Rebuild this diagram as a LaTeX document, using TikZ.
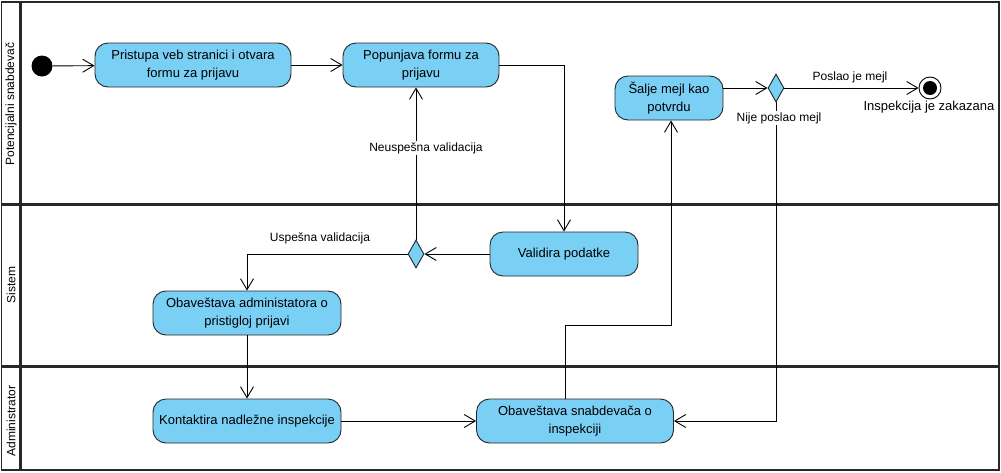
\documentclass[tikz,border=0pt]{standalone}
\usepackage{fontspec}
\setmainfont{Liberation Sans}
\usetikzlibrary{shapes.geometric,arrows.meta}
\definecolor{actfill}{RGB}{122,207,245}
\definecolor{frame}{RGB}{40,40,40}
\tikzset{
  act/.style={draw=black!85, fill=actfill, rounded corners=13pt, line width=0.9pt,
    inner sep=2pt, align=center, font=\fontsize{13}{18}\selectfont, minimum height=44pt},
  dec/.style={draw=black!85, fill=actfill, shape=diamond, inner sep=0pt,
    minimum width=16pt, minimum height=28pt, line width=0.9pt},
  flow/.style={draw=black, line width=0.9pt, -{Straight Barb[length=11pt,width=13pt,line width=0.9pt]}},
  lbl/.style={font=\fontsize{12}{14}\selectfont, inner sep=1pt},
  lane/.style={font=\fontsize{12}{14}\selectfont, rotate=90}
}
\begin{document}
\begin{tikzpicture}[x=1pt,y=-1pt]
\useasboundingbox (0,0) rectangle (1001,472);
% frame
\draw[frame, line width=1.8pt] (1.5,2) rectangle (999,470);
\draw[frame, line width=3pt] (20,2) -- (20,470);
\draw[frame, line width=3pt] (1.5,204) -- (999,204);
\draw[frame, line width=3pt] (1.5,366) -- (999,366);
\node[lane] (l1) at (11,104) {Potencijalni snabdevač};
\node[lane] (l2) at (11,285) {Sistem};
\node[lane] (l3) at (11,421) {Administrator};
% nodes
\node[circle, fill=black, minimum size=21pt, inner sep=0pt] (start) at (42,66) {};
\node[act, minimum width=196pt] (a1) at (193,65) {Pristupa veb stranici i otvara\\formu za prijavu};
\node[act, minimum width=156pt] (a2) at (421,65) {Popunjava formu za\\prijavu};
\node[act, minimum width=108pt] (a3) at (669,98) {Šalje mejl kao\\potvrdu};
\node[dec] (d1) at (776,88) {};
\node[circle, draw=black, line width=0.9pt, fill=white, minimum size=22pt, inner sep=0pt] (end) at (930,88) {};
\fill[black] (end.center) circle (7pt);
\node[lbl, font=\fontsize{13}{15}\selectfont] (endl) at (929,107) {Inspekcija je zakazana};
\node[act, minimum width=148pt] (a4) at (564,254) {Validira podatke};
\node[dec] (d2) at (416,254) {};
\node[act, minimum width=188pt] (a5) at (247,313) {Obaveštava administatora o\\pristigloj prijavi};
\node[act, minimum width=188pt] (a6) at (247,421) {Kontaktira nadležne inspekcije};
\node[act, minimum width=197pt] (a7) at (575,421) {Obaveštava snabdevača o\\inspekciji};
\coordinate (k) at (0,325);
% edges
\draw[flow] (start) -- (a1);
\draw[flow] (a1) -- (a2);
\draw[flow] (a2.east) -| (a4.north);
\draw[flow] (a4.west) -- (d2.east);
\draw[flow] (d2.north) -- (d2.north |- a2.south);
\node[lbl, fill=white] (nv) at (426,148) {Neuspešna validacija};
\draw[flow] (d2.west) -| (a5.north);
\node[lbl] (uv) at (320,238) {Uspešna validacija};
\draw[flow] (a5) -- (a6);
\draw[flow] (a6) -- (a7);
\draw[flow] ([xshift=-10pt]a7.north) -- ([xshift=-10pt]a7.north |- k) -| ([xshift=2pt]a3.south);
\draw[flow] (a3.east |- d1) -- (d1.west);
\draw[flow] (d1.east) -- (end.west);
\node[lbl] (pm) at (850,77) {Poslao je mejl};
\draw[flow] (d1.south) |- (a7.east);
\node[lbl, fill=white] (npm) at (779,118) {Nije poslao mejl};
\end{tikzpicture}
\end{document}
